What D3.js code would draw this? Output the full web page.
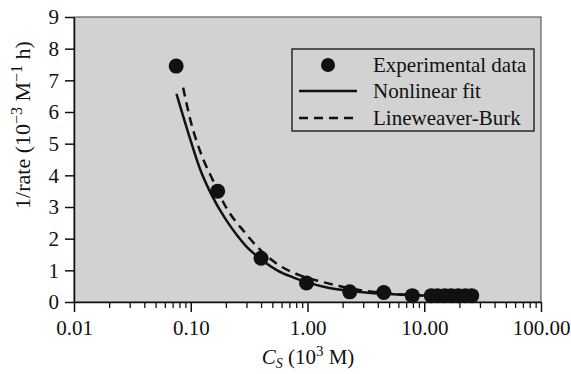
<!DOCTYPE html>
<html><head><meta charset="utf-8">
<script src="https://cdn.jsdelivr.net/npm/d3@7"></script>
<style>body{margin:0;background:#fff}svg{display:block}text{font-family:"Liberation Serif","DejaVu Serif",serif;fill:#111}</style>
</head><body><svg id="c" width="571" height="374"></svg>
<script>
// Experimental data
const expCs = [0.075, 0.17, 0.40, 0.98, 2.3, 4.5, 7.9, 11.5, 13, 15, 17, 19.5, 22.5, 25.5];
const expInvRate = [7.45, 3.5, 1.38, 0.6, 0.32, 0.3, 0.2, 0.2, 0.2, 0.2, 0.2, 0.2, 0.2, 0.2];
// Nonlinear fit curve
const nlCs = [0.0755, 0.095, 0.12, 0.15, 0.2, 0.25, 0.3, 0.4, 0.55, 0.75, 1, 1.5, 2, 3, 5, 8, 12, 18, 26];
const nlInvRate = [6.57, 5.35, 4.2, 3.4, 2.6, 2.1, 1.75, 1.35, 1.0, 0.78, 0.62, 0.45, 0.38, 0.31, 0.25, 0.21, 0.19, 0.18, 0.17];
// Lineweaver-Burk curve
const lbCs = [0.086, 0.1, 0.125, 0.155, 0.2, 0.29, 0.4, 0.55, 0.85, 1.2, 1.9, 3, 5, 8, 12, 18, 26];
const lbInvRate = [6.77, 5.7, 4.6, 3.84, 3.0, 2.2, 1.62, 1.2, 0.85, 0.68, 0.5, 0.36, 0.27, 0.22, 0.19, 0.18, 0.17];
const xTicks = [0.01, 0.1, 1, 10, 100];
const xTickLabels = ["0.01", "0.10", "1.00", "10.00", "100.00"];
const yTicks = [0,1,2,3,4,5,6,7,8,9];
const legendLabels = ["Experimental data", "Nonlinear fit", "Lineweaver-Burk"];

const svg = d3.select("#c");
const L = 74, R = 541, T = 17, B = 302;
const x = d3.scaleLog().domain([0.01, 100]).range([L, R]);
const y = d3.scaleLinear().domain([0, 9]).range([B, T]);
const FS = 21;

svg.append("rect").attr("x", L).attr("y", T).attr("width", R-L).attr("height", B-T)
  .attr("fill", "#d2d2d2").attr("stroke", "#444").attr("stroke-width", 1);

// minor x ticks
const minor = [];
[0.01, 0.1, 1, 10].forEach(d => { for (let k = 2; k <= 9; k++) minor.push(d*k); });
svg.append("g").attr("transform", `translate(0,${B})`)
  .call(d3.axisBottom(x).tickValues(minor).tickSize(6).tickFormat(""))
  .call(g => g.select(".domain").remove())
  .call(g => g.selectAll("line").attr("stroke", "#111").attr("stroke-width", 1.3));

const xa = svg.append("g").attr("transform", `translate(0,${B})`)
  .call(d3.axisBottom(x).tickValues(xTicks).tickSize(10).tickSizeOuter(0).tickPadding(8)
        .tickFormat((d,i) => xTickLabels[i]));
xa.select(".domain").attr("stroke", "#111").attr("stroke-width", 1.5);
xa.selectAll("line").attr("stroke", "#111").attr("stroke-width", 1.5);
xa.selectAll("text").attr("font-size", FS).attr("font-family", "Liberation Serif").attr("fill", "#111");

const ya = svg.append("g").attr("transform", `translate(${L},0)`)
  .call(d3.axisLeft(y).tickValues(yTicks).tickSize(9).tickSizeOuter(0).tickPadding(6).tickFormat(d3.format("d")));
ya.select(".domain").attr("stroke", "#111").attr("stroke-width", 1.5);
ya.selectAll("line").attr("stroke", "#111").attr("stroke-width", 1.5);
ya.selectAll("text").attr("font-size", FS).attr("font-family", "Liberation Serif").attr("fill", "#111");

const line = d3.line().x(d => x(d[0])).y(d => y(d[1])).curve(d3.curveMonotoneX);
svg.append("path").datum(nlCs.map((c,i) => [c, nlInvRate[i]]))
  .attr("d", line).attr("fill", "none").attr("stroke", "#111").attr("stroke-width", 2.5);
svg.append("path").datum(lbCs.map((c,i) => [c, lbInvRate[i]]))
  .attr("d", line).attr("fill", "none").attr("stroke", "#111").attr("stroke-width", 2.5)
  .attr("stroke-dasharray", "9,6");

svg.append("g").selectAll("circle").data(expCs.map((c,i) => [c, expInvRate[i]])).join("circle")
  .attr("cx", d => x(d[0])).attr("cy", d => y(d[1])).attr("r", 7.5).attr("fill", "#111");

// legend
const lg = svg.append("g");
lg.append("rect").attr("x", 292).attr("y", 49).attr("width", 242).attr("height", 82)
  .attr("fill", "#d2d2d2").attr("stroke", "#111").attr("stroke-width", 1.3);
const rows = [65, 91, 118];
lg.append("circle").attr("cx", 328).attr("cy", rows[0]).attr("r", 7).attr("fill", "#111");
lg.append("line").attr("x1", 299).attr("x2", 357).attr("y1", rows[1]).attr("y2", rows[1])
  .attr("stroke", "#111").attr("stroke-width", 2.5);
lg.append("line").attr("x1", 299).attr("x2", 357).attr("y1", rows[2]).attr("y2", rows[2])
  .attr("stroke", "#111").attr("stroke-width", 2.5).attr("stroke-dasharray", "9,6");
legendLabels.forEach((t,i) => {
  lg.append("text").attr("x", 373).attr("y", rows[i]).attr("dy", "0.35em")
    .attr("font-size", FS).text(t);
});

// x title
const xt = svg.append("text").attr("x", 308).attr("y", 364).attr("text-anchor", "middle").attr("font-size", FS);
xt.append("tspan").attr("font-style", "italic").text("C");
xt.append("tspan").attr("font-style", "italic").attr("font-size", 14).attr("dy", 4).text("S");
xt.append("tspan").attr("dy", -4).text(" (10");
xt.append("tspan").attr("font-size", 15).attr("dy", -8).text("3");
xt.append("tspan").attr("dy", 8).text(" M)");

// y title
const yt = svg.append("text").attr("transform", "translate(30,125) rotate(-90)")
  .attr("text-anchor", "middle").attr("font-size", 22);
yt.append("tspan").text("1/rate (10");
yt.append("tspan").attr("font-size", 16).attr("dy", -8).text("−3");
yt.append("tspan").attr("dy", 8).text(" M");
yt.append("tspan").attr("font-size", 16).attr("dy", -8).text("−1");
yt.append("tspan").attr("dy", 8).text(" h)");
</script></body></html>
